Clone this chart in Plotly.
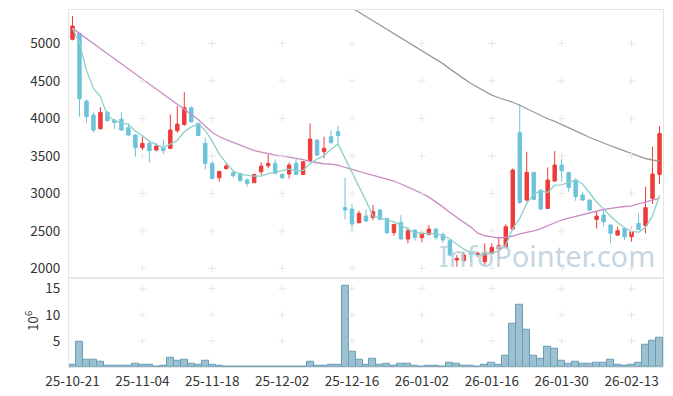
import plotly.graph_objects as go

# ---------------- data ----------------
dates = [
    "25-10-21", "25-10-22", "25-10-23", "25-10-24", "25-10-27", "25-10-28", "25-10-29", "25-10-30", "25-10-31",
    "25-11-03", "25-11-04", "25-11-05", "25-11-06", "25-11-07", "25-11-10", "25-11-11", "25-11-12", "25-11-13",
    "25-11-14", "25-11-17", "25-11-18", "25-11-19", "25-11-20", "25-11-21", "25-11-24", "25-11-25", "25-11-26",
    "25-11-27", "25-11-28", "25-12-01", "25-12-02", "25-12-03", "25-12-04", "25-12-05", "25-12-08", "25-12-09",
    "25-12-10", "25-12-11", "25-12-12", "25-12-15", "25-12-16", "25-12-17", "25-12-18", "25-12-19", "25-12-22",
    "25-12-23", "25-12-24", "25-12-26", "25-12-29", "25-12-30", "26-01-02", "26-01-05", "26-01-06", "26-01-07",
    "26-01-08", "26-01-09", "26-01-12", "26-01-13", "26-01-14", "26-01-15", "26-01-16", "26-01-19", "26-01-20",
    "26-01-21", "26-01-22", "26-01-23", "26-01-26", "26-01-27", "26-01-28", "26-01-29", "26-01-30", "26-02-02",
    "26-02-03", "26-02-04", "26-02-05", "26-02-06", "26-02-09", "26-02-10", "26-02-11", "26-02-12", "26-02-13",
    "26-02-19", "26-02-20", "26-02-23", "26-02-24",
]

open_ = [
    5054, 5133, 4231, 4044, 3862, 4080, 3978, 3990, 3876, 3778,
    3610, 3667, 3578, 3600, 3600, 3836, 3920, 4142, 3933, 3667,
    3400, 3209, 3329, 3276, 3267, 3178, 3142, 3289, 3369, 3400,
    3253, 3258, 3400, 3253, 3436, 3711, 3556, 3756, 3822, 2810,
    2791, 2609, 2698, 2680, 2778, 2667, 2476, 2613, 2391, 2511,
    2409, 2453, 2524, 2453, 2369, 2111, 2102, 2200, 2178, 2089,
    2200, 2258, 2280, 2524, 3809, 2911, 3280, 3044, 2800, 3164,
    3378, 3276, 3178, 2978, 2911, 2653, 2711, 2578, 2444, 2533,
    2422, 2600, 2569, 2933, 3253,
]
high = [
    5364, 5140, 4254, 4080, 4147, 4100, 3990, 4080, 3920, 3790,
    3756, 3680, 3667, 3720, 4053, 4164, 4351, 4160, 3945, 3742,
    3431, 3300, 3409, 3300, 3275, 3200, 3260, 3413, 3520, 3453,
    3270, 3413, 3458, 3430, 3933, 3720, 3756, 3844, 3898, 3209,
    2858, 2769, 2787, 2844, 2790, 2670, 2590, 2711, 2547, 2520,
    2490, 2578, 2540, 2480, 2380, 2178, 2222, 2210, 2222, 2333,
    2333, 2422, 2587, 3333, 4187, 3556, 3285, 3050, 3347, 3564,
    3467, 3290, 3200, 3022, 2915, 2756, 2778, 2590, 2556, 2550,
    2556, 2733, 3089, 3622, 3898,
]
low = [
    5040, 4022, 3942, 3813, 3850, 3955, 3860, 3830, 3760, 3490,
    3578, 3413, 3560, 3524, 3600, 3810, 3898, 3945, 3760, 3320,
    3187, 3156, 3320, 3210, 3160, 3090, 3140, 3244, 3333, 3260,
    3190, 3200, 3250, 3250, 3430, 3498, 3467, 3660, 3644, 2653,
    2502, 2600, 2625, 2644, 2650, 2460, 2436, 2385, 2333, 2370,
    2347, 2440, 2380, 2340, 2156, 2022, 2095, 2089, 2150, 2044,
    2190, 2111, 2270, 2510, 2858, 2890, 2910, 2780, 2790, 3160,
    3156, 3022, 2902, 2900, 2764, 2533, 2556, 2333, 2430, 2380,
    2356, 2510, 2467, 2858, 3124,
]
close = [
    5231, 4262, 4022, 3844, 4080, 3970, 3945, 3845, 3778, 3610,
    3667, 3570, 3631, 3569, 3844, 3924, 4142, 3956, 3772, 3400,
    3200, 3293, 3364, 3236, 3169, 3133, 3253, 3364, 3400, 3267,
    3209, 3378, 3253, 3422, 3724, 3511, 3600, 3680, 3770, 2778,
    2591, 2733, 2631, 2756, 2653, 2476, 2587, 2391, 2502, 2413,
    2467, 2524, 2413, 2378, 2178, 2133, 2178, 2187, 2200, 2200,
    2280, 2302, 2556, 3311, 2880, 3280, 2920, 2791, 3178, 3378,
    3302, 3080, 2956, 2911, 2778, 2698, 2622, 2467, 2502, 2422,
    2489, 2520, 2809, 3258, 3800,
]

ma5 = [
    5200, 5010, 4640, 4400, 4288, 4036, 3972, 3937, 3924, 3830,
    3769, 3694, 3651, 3609, 3656, 3708, 3822, 3887, 3928, 3839,
    3694, 3524, 3406, 3299, 3252, 3239, 3231, 3231, 3264, 3283,
    3299, 3324, 3301, 3306, 3397, 3458, 3502, 3587, 3657, 3468,
    3284, 3110, 2901, 2698, 2673, 2650, 2621, 2573, 2522, 2474,
    2472, 2459, 2464, 2439, 2392, 2325, 2256, 2211, 2175, 2180,
    2209, 2234, 2308, 2530, 2666, 2866, 2989, 3036, 3010, 3109,
    3114, 3146, 3179, 3125, 3005, 2885, 2793, 2695, 2613, 2542,
    2500, 2480, 2548, 2700, 2975,
]
ma20 = [
    5200, 5130, 5065, 4997, 4930, 4862, 4795, 4727, 4660, 4590,
    4520, 4455, 4390, 4320, 4250, 4185, 4120, 4055, 3985, 3895,
    3815, 3755, 3712, 3680, 3644, 3605, 3570, 3550, 3528, 3510,
    3500, 3485, 3465, 3450, 3425, 3405, 3395, 3390, 3375, 3345,
    3322, 3295, 3265, 3240, 3220, 3200, 3165, 3125, 3085, 3045,
    3000, 2950, 2890, 2820, 2745, 2680, 2610, 2550, 2470, 2435,
    2420, 2405, 2415, 2430, 2460, 2475, 2500, 2530, 2570, 2610,
    2645, 2670, 2695, 2720, 2745, 2765, 2785, 2800, 2815, 2825,
    2832, 2860, 2890, 2910, 2933,
]
ma60 = [None] * 36 + [
    5700, 5640, 5585, 5527,
    5470, 5415, 5358, 5300, 5245, 5188, 5130, 5075, 5018, 4960,
    4905, 4848, 4792, 4730, 4660, 4600, 4530, 4465, 4410, 4355,
    4310, 4275, 4250, 4215, 4175, 4130, 4080, 4035, 3995, 3960,
    3920, 3875, 3830, 3790, 3745, 3705, 3670, 3635, 3600, 3565,
    3530, 3490, 3465, 3445, 3430,
]

volume = [  # millions of shares
    0.45, 4.75, 1.4, 1.4, 1.0, 0.25, 0.25, 0.25, 0.25, 0.65,
    0.45, 0.45, 0.1, 0.25, 1.8, 1.2, 1.4, 0.65, 0.45, 1.2,
    0.45, 0.25, 0.1, 0.1, 0.1, 0.1, 0.1, 0.1, 0.1, 0.1,
    0.1, 0.1, 0.1, 0.1, 1.0, 0.25, 0.25, 0.45, 0.45, 15.5,
    3.0, 1.4, 0.45, 1.6, 0.45, 0.65, 0.25, 0.65, 0.65, 0.25,
    0.1, 0.25, 0.25, 0.1, 0.85, 0.65, 0.25, 0.25, 0.1, 0.45,
    0.85, 0.45, 2.2, 8.2, 11.9, 7.2, 2.2, 1.6, 3.9, 3.5,
    1.2, 0.65, 1.0, 0.65, 0.65, 0.85, 0.85, 1.4, 0.45, 0.25,
    0.45, 0.85, 4.3, 5.1, 5.65,
]

x_ticks = dates[0::10]
price_ticks = [2000, 2500, 3000, 3500, 4000, 4500, 5000]
vol_ticks = [5, 10, 15]

# ---------------- styles ----------------
UP = "#ef3b3b"
DOWN = "#6cc3da"
GRID = "#e6e6e6"
LINE = "#e6e6e6"
FONT = "Noto Sans CJK KR"

fig = go.Figure()

fig.add_trace(go.Candlestick(
    x=dates, open=open_, high=high, low=low, close=close,
    xaxis="x", yaxis="y", whiskerwidth=0,
    increasing=dict(line=dict(color=UP, width=1), fillcolor=UP),
    decreasing=dict(line=dict(color=DOWN, width=1), fillcolor=DOWN),
))
fig.add_trace(go.Scatter(x=dates, y=ma60, mode="lines", xaxis="x", yaxis="y",
                         line=dict(color="#9a9a9a", width=1.3)))
fig.add_trace(go.Scatter(x=dates, y=ma20, mode="lines", xaxis="x", yaxis="y",
                         line=dict(color="#c98dc4", width=1.3)))
fig.add_trace(go.Scatter(x=dates, y=ma5, mode="lines", xaxis="x", yaxis="y",
                         line=dict(color="#8dd0c7", width=1.3)))

fig.add_trace(go.Bar(
    x=dates, y=volume, xaxis="x2", yaxis="y2",
    marker=dict(color="#9cc2d2", line=dict(color="#6a9db5", width=1)),
))

# grid crosses (at tick intersections)
fig.add_trace(go.Scatter(
    x=[d for d in x_ticks[1:] for _ in price_ticks],
    y=[p for _ in x_ticks[1:] for p in price_ticks],
    mode="markers", xaxis="x", yaxis="y", hoverinfo="skip",
    marker=dict(symbol="cross-thin", size=5, line=dict(color=GRID, width=1)),
))
fig.add_trace(go.Scatter(
    x=[d for d in x_ticks[1:] for _ in vol_ticks],
    y=[v for _ in x_ticks[1:] for v in vol_ticks],
    mode="markers", xaxis="x2", yaxis="y2", hoverinfo="skip",
    marker=dict(symbol="cross-thin", size=5, line=dict(color=GRID, width=1)),
))

common_x = dict(type="category", categoryorder="array", categoryarray=dates,
                domain=[0, 1], range=[-0.5, 84.5], showgrid=False, zeroline=False,
                showline=True, linecolor=LINE, mirror=True, automargin=False,
                tickmode="array", tickvals=x_ticks)
common_y = dict(showgrid=False, zeroline=False, automargin=False,
                showline=True, linecolor=LINE, mirror=True,
                ticks="outside", ticklen=5, tickcolor="rgba(0,0,0,0)")

fig.update_layout(
    width=673, height=396,
    margin=dict(l=69, r=10, t=10, b=29, autoexpand=False),
    paper_bgcolor="white", plot_bgcolor="white",
    showlegend=False, bargap=0,
    font=dict(family=FONT, size=13.5, color="#333333"),
    xaxis=dict(common_x, anchor="y", showticklabels=False,
               rangeslider=dict(visible=False)),
    xaxis2=dict(common_x, anchor="y2", matches="x", ticktext=x_ticks,
                ticks="outside", ticklen=2, tickcolor="rgba(0,0,0,0)"),
    yaxis=dict(common_y, domain=[0.25, 1], range=[1875, 5445], anchor="x",
               tickmode="array", tickvals=price_ticks),
    yaxis2=dict(common_y, domain=[0, 0.25], range=[0, 17.1], anchor="x2",
                tickmode="array", tickvals=vol_ticks),
    annotations=[
        dict(text="10<sup>6</sup>", xref="paper", yref="paper", x=-0.062, y=0.129,
             xanchor="center", yanchor="middle",
             showarrow=False, textangle=-90, font=dict(size=13.5, color="#333333")),
        dict(text="InfoPointer.com", xref="paper", yref="paper", x=0.804, y=0.313,
             xanchor="center", yanchor="middle", showarrow=False,
             font=dict(size=29, color="rgba(185,207,221,0.85)", family="Noto Sans")),
    ],
)

fig.write_html(
    "out.html",
    config={"displayModeBar": False},
    post_script="document.body.style.margin='0';document.body.style.overflow='hidden';",
)
